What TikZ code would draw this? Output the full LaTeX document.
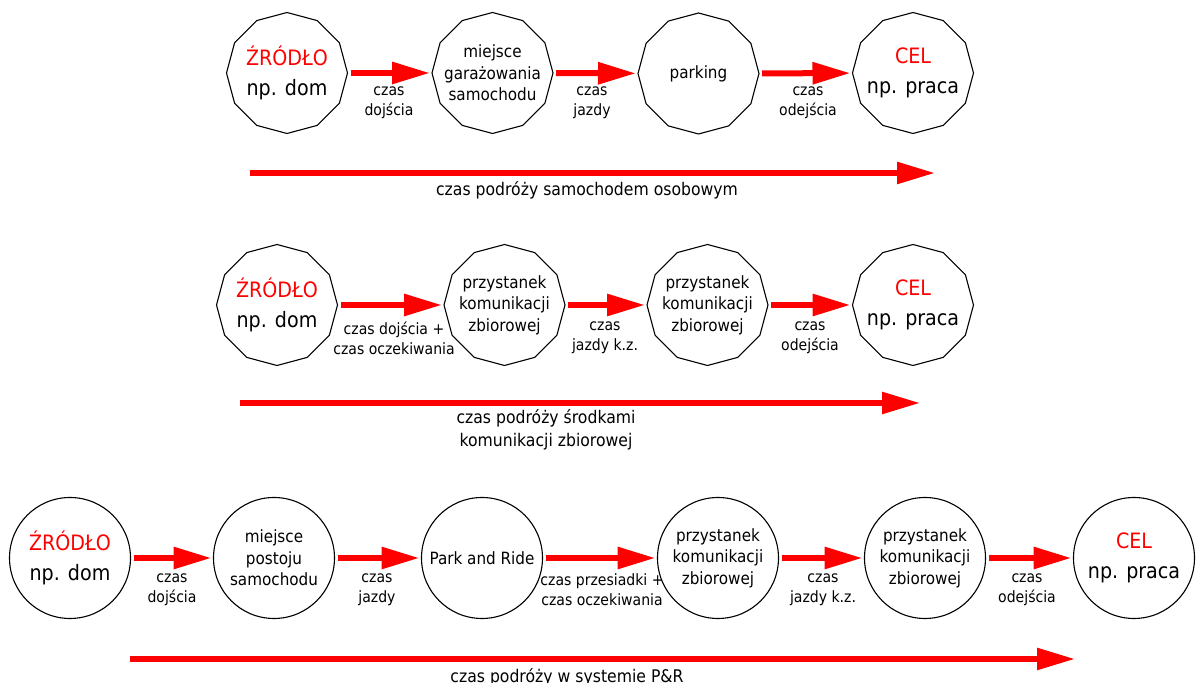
\documentclass[tikz,border=0pt]{standalone}
\usepackage{fontspec}
\setmainfont{DejaVu Sans}[FakeStretch=0.9]
\usetikzlibrary{arrows.meta}

% twelve-sided outline laid over a circular node, corners every 30 degrees
\newcommand\polyrim[1]{\draw[rim] (#1.0) \foreach \k in {30,60,...,330}{ -- (#1.\k)} -- cycle;}

\tikzset{
  stop/.style={circle, minimum size=60.5pt, inner sep=0pt, outer sep=0pt,
    align=center, font=\fontsize{8.45}{10.7}\selectfont},
  ring/.style={stop, draw, line width=0.55pt},
  rim/.style={line width=0.55pt, line join=miter},
  bigtxt/.style={font=\fontsize{10.6}{14.8}\selectfont},
  hop/.style={draw=red, line width=3pt, -{Triangle[length=19pt,width=10.5pt]},
    shorten <=1.5pt, shorten >=1pt},
  span/.style={draw=red, line width=2.8pt, -{Triangle[length=19pt,width=10.5pt]}},
  lbl/.style={align=center, inner sep=0pt, font=\fontsize{7.8}{10}\selectfont},
  total/.style={align=center, inner sep=0pt, font=\fontsize{8.7}{11.5}\selectfont},
}

\begin{document}
\begin{tikzpicture}[x=0.5pt, y=-0.5pt]
\useasboundingbox (0,0) rectangle (1196,683);
\clip (0,0) rectangle (1196,683);

% ---- travel by private car ----
\node[stop, bigtxt] (z1) at (287,73) {\textcolor{red}{ŹRÓDŁO}\\np. dom};
\node[stop] (g1) at (492.5,73) {miejsce\\garażowania\\samochodu};
\node[stop] (p1) at (698.5,73.5) {parking};
\node[stop, bigtxt] (c1) at (913,73) {\textcolor{red}{CEL}\\np. praca};
\polyrim{z1}\polyrim{g1}\polyrim{p1}\polyrim{c1}
\draw[hop] (z1) -- (g1);
\draw[hop] (g1) -- (p1);
\draw[hop] (p1) -- (c1);
\node[lbl] (l11) at (389,103) {czas\\dojścia};
\node[lbl] (l12) at (592,103) {czas\\jazdy};
\node[lbl] (l13) at (808,103) {czas\\odejścia};
\coordinate (t1s) at (250,173);
\coordinate (t1e) at (935,173);
\draw[span] (t1s) -- (t1e);
\node[total] (t1) at (587,190) {czas podróży samochodem osobowym};

% ---- travel by public transport ----
\node[stop, bigtxt] (z2) at (277,305) {\textcolor{red}{ŹRÓDŁO}\\np. dom};
\node[stop] (s21) at (504.5,305) {przystanek\\komunikacji\\zbiorowej};
\node[stop] (s22) at (707.5,305) {przystanek\\komunikacji\\zbiorowej};
\node[stop, bigtxt] (c2) at (913,305) {\textcolor{red}{CEL}\\np. praca};
\polyrim{z2}\polyrim{s21}\polyrim{s22}\polyrim{c2}
\draw[hop] (z2) -- (s21);
\draw[hop] (s21) -- (s22);
\draw[hop] (s22) -- (c2);
\node[lbl] (l21) at (394,338) {czas dojścia +\\czas oczekiwania};
\node[lbl] (l22) at (605,338) {czas\\jazdy k.z.};
\node[lbl] (l23) at (810,338) {czas\\odejścia};
\coordinate (t2s) at (240,403);
\coordinate (t2e) at (920,403);
\draw[span] (t2s) -- (t2e);
\node[total] (t2) at (546,430) {czas podróży środkami\\komunikacji zbiorowej};

% ---- travel in the Park and Ride system ----
\node[ring, bigtxt] (z3) at (70,558) {\textcolor{red}{ŹRÓDŁO}\\np. dom};
\node[ring] (m3) at (274,558) {miejsce\\postoju\\samochodu};
\node[ring] (pr) at (482,558) {Park and Ride};
\node[ring] (s31) at (718,558) {przystanek\\komunikacji\\zbiorowej};
\node[ring] (s32) at (925,558) {przystanek\\komunikacji\\zbiorowej};
\node[ring, bigtxt] (c3) at (1134,558) {\textcolor{red}{CEL}\\np. praca};
\draw[hop] (z3) -- (m3);
\draw[hop] (m3) -- (pr);
\draw[hop] (pr) -- (s31);
\draw[hop] (s31) -- (s32);
\draw[hop] (s32) -- (c3);
\node[lbl] (l31) at (172,590) {czas\\dojścia};
\node[lbl] (l32) at (377,590) {czas\\jazdy};
\node[lbl] (l33) at (602,590) {czas przesiadki +\\czas oczekiwania};
\node[lbl] (l34) at (823,590) {czas\\jazdy k.z.};
\node[lbl] (l35) at (1027,590) {czas\\odejścia};
\coordinate (t3s) at (130,659);
\coordinate (t3e) at (1075,659);
\draw[span] (t3s) -- (t3e);
\node[total] (t3) at (567,677) {czas podróży w systemie P\&R};
\end{tikzpicture}
\end{document}
